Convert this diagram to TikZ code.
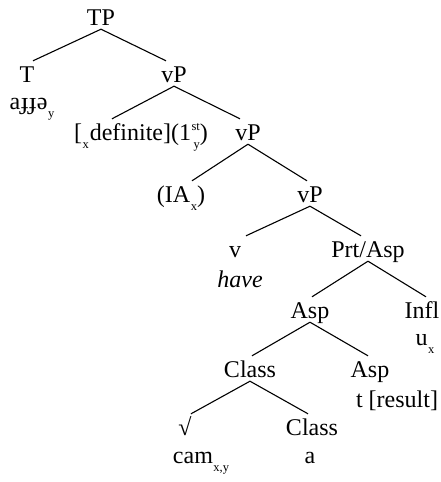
\documentclass[tikz,border=0pt]{standalone}
\usepackage{fontspec}
\setmainfont{Liberation Serif}

% sub- and superscripts of the tree labels
\newcommand{\lo}[1]{\kern0.5pt\raisebox{-8pt}{\fontsize{12.5}{12.5}\selectfont #1}}
\newcommand{\hilo}[2]{\kern0.5pt\rlap{\kern2pt\raisebox{-8pt}{\fontsize{12.5}{12.5}\selectfont #2}}\raisebox{10pt}{\fontsize{12.5}{12.5}\selectfont #1}}

\begin{document}
\begin{tikzpicture}[x=1pt, y=-1pt, font=\fontsize{24}{28}\selectfont,
    cat/.style={anchor=base, inner xsep=0pt, inner ysep=4pt, text height=17pt, text depth=0pt},
    lex/.style={anchor=base, inner sep=0pt},
    branch/.style={line width=1.1pt}]
    \useasboundingbox (0,0) rectangle (440,482);
    % Below nodes are the labels.
        \node[cat] (tp) at (101,25) {TP};
        \node[cat] (t) at (27,82) {T};
        \node[lex] (tlex) at (32,109) {a\kern0.5pt ɟɟə\lo{y}};
        \node[cat] (vp1) at (174,82) {vP};
        \node[cat] (def) at (141,140) {[\lo{x}\kern1pt definite](1\hilo{st}{y})};
        \node[cat] (vp2) at (248,140) {vP};
        \node[cat] (ia) at (181,202) {(IA\lo{x})};
        \node[cat] (vp3) at (310,202) {vP};
        \node[cat] (v) at (235,257) {v};
        \node[lex] (have) at (240,287) {\itshape have};
        \node[cat] (prt) at (368,257) {Prt/Asp};
        \node[cat] (asp1) at (310,318) {Asp};
        \node[cat] (infl) at (422,318) {Infl};
        \node[lex] (ux) at (425,345) {u\lo{x}};
        \node[cat] (class1) at (250,377) {Class};
        \node[cat] (asp2) at (370,377) {Asp};
        \node[lex] (res) at (397,407) {t [result]};
        \node[cat] (root) at (185,435) {√};
        \node[cat] (class2) at (312,435) {Class};
        \node[lex] (cam) at (201,463) {cam\lo{x,y}};
        \node[lex] (clex) at (310,463) {a};
    % This draws the branches.
        \draw[branch] (tp.south) -- ([xshift=6pt]t.north);
        \draw[branch] (tp.south) -- ([xshift=-8pt]vp1.north);
        \draw[branch] (vp1.south) -- ([xshift=-29pt]def.north);
        \draw[branch] (vp1.south) -- ([xshift=-8pt]vp2.north);
        \draw[branch] (vp2.south) -- ([xshift=11pt]ia.north);
        \draw[branch] (vp2.south) -- ([xshift=-3pt]vp3.north);
        \draw[branch] (vp3.south) -- ([xshift=11pt]v.north);
        \draw[branch] (vp3.south) -- ([xshift=-7pt]prt.north);
        \draw[branch] (prt.south) -- ([xshift=2pt]asp1.north);
        \draw[branch] (prt.south) -- ([xshift=4pt]infl.north);
        \draw[branch] (asp1.south) -- ([xshift=2pt]class1.north);
        \draw[branch] (asp1.south) -- ([xshift=-2pt]asp2.north);
        \draw[branch] (class1.south) -- ([xshift=6pt]root.north);
        \draw[branch] (class1.south) -- ([xshift=-4pt]class2.north);
\end{tikzpicture}
\end{document}
